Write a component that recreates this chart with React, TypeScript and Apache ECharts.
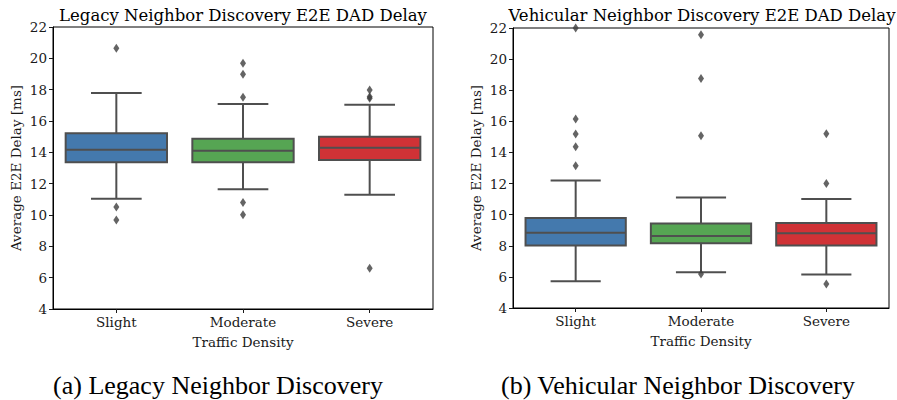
import React, { useEffect, useRef } from "react";
import * as echarts from "echarts";

const categories = ["Slight", "Moderate", "Severe"];
const yTicks = { min: 4, max: 22, interval: 2 };

// [min whisker, Q1, median, Q3, max whisker]
const legacyStats = [
  [11.04, 13.36, 14.17, 15.22, 17.79],
  [11.64, 13.36, 14.1, 14.87, 17.09],
  [11.3, 13.51, 14.3, 15.0, 17.04],
];
// [category index, value]
const legacyOutliers = [
  [0, 20.64], [0, 10.51], [0, 9.68],
  [1, 19.68], [1, 18.98], [1, 17.51], [1, 10.79], [1, 10.02],
  [2, 17.98], [2, 17.55], [2, 17.45], [2, 6.6],
];

const vehicularStats = [
  [5.72, 8.01, 8.83, 9.79, 12.19],
  [6.3, 8.16, 8.63, 9.44, 11.1],
  [6.16, 8.01, 8.8, 9.47, 11.01],
];
const vehicularOutliers = [
  [0, 22.0], [0, 16.15], [0, 15.19], [0, 14.37], [0, 13.15],
  [1, 21.57], [1, 18.76], [1, 15.08], [1, 6.19],
  [2, 15.2], [2, 12.01], [2, 5.55],
];

const titles = [
  "Legacy Neighbor Discovery E2E DAD Delay",
  "Vehicular Neighbor Discovery E2E DAD Delay",
];
const captions = ["(a) Legacy Neighbor Discovery", "(b) Vehicular Neighbor Discovery"];
const yName = "Average E2E Delay [ms]";
const xName = "Traffic Density";

const boxColors = ["#4479ad", "#56a553", "#d03236"];
const lineColor = "#4f4f4f";
const serif = "DejaVu Serif";
const captionFont = "Liberation Serif";
const textColor = "#1a1a1a";

function renderBox(params: any, api: any) {
  const idx = api.value(0);
  const vals = [1, 2, 3, 4, 5].map((i) => api.value(i));
  const band = api.size([1, 0])[0];
  const boxW = band * 0.8;
  const capW = boxW / 2;
  const p = vals.map((v) => api.coord([idx, v]));
  const cx = p[2][0];
  const style = { stroke: lineColor, lineWidth: 2, fill: "none" };
  return {
    type: "group",
    children: [
      { type: "line", shape: { x1: cx, y1: p[3][1], x2: cx, y2: p[4][1] }, style },
      { type: "line", shape: { x1: cx, y1: p[0][1], x2: cx, y2: p[1][1] }, style },
      { type: "line", shape: { x1: cx - capW / 2, y1: p[4][1], x2: cx + capW / 2, y2: p[4][1] }, style },
      { type: "line", shape: { x1: cx - capW / 2, y1: p[0][1], x2: cx + capW / 2, y2: p[0][1] }, style },
      {
        type: "rect",
        shape: { x: cx - boxW / 2, y: p[3][1], width: boxW, height: p[1][1] - p[3][1] },
        style: { fill: boxColors[idx], stroke: lineColor, lineWidth: 2 },
      },
      { type: "line", shape: { x1: cx - boxW / 2, y1: p[2][1], x2: cx + boxW / 2, y2: p[2][1] }, style },
    ],
  };
}

function makeAxes(gridIndex: number) {
  const x = {
    type: "category",
    gridIndex,
    data: categories,
    boundaryGap: true,
    axisLine: { show: true, lineStyle: { color: "#000", width: 1 } },
    axisTick: { show: true, alignWithLabel: true, length: 4, lineStyle: { color: textColor } },
    axisLabel: { fontFamily: serif, fontSize: 13.5, color: textColor, margin: 6 },
    name: xName,
    nameLocation: "middle",
    nameGap: 26,
    nameTextStyle: { fontFamily: serif, fontSize: 13.5, color: textColor },
    splitLine: { show: false },
  };
  const y = {
    type: "value",
    gridIndex,
    min: yTicks.min,
    max: yTicks.max,
    interval: yTicks.interval,
    axisLine: { show: true, lineStyle: { color: "#000", width: 1 } },
    axisTick: { show: true, length: 4, lineStyle: { color: textColor } },
    axisLabel: { fontFamily: serif, fontSize: 13.5, color: textColor, margin: 6 },
    name: yName,
    nameLocation: "middle",
    nameGap: 30,
    nameTextStyle: { fontFamily: serif, fontSize: 13.5, color: textColor },
    splitLine: { show: false },
  };
  return { x, y };
}

function textEl(text: string, x: number, y: number, family: string, size: number) {
  return {
    type: "text",
    x,
    y,
    style: {
      text,
      fontFamily: family,
      fontSize: size,
      fill: "#000",
      align: "center",
      verticalAlign: "middle",
      textAlign: "center",
      textVerticalAlign: "middle",
    },
  };
}

export default function App() {
  const ref = useRef<HTMLDivElement>(null);
  useEffect(() => {
    document.body.style.margin = "0";
    const chart = echarts.init(ref.current!, null, { renderer: "svg" });
    const a0 = makeAxes(0);
    const a1 = makeAxes(1);
    const toData = (stats: number[][]) => stats.map((s, i) => [i, ...s]);
    chart.setOption({
      animation: false,
      backgroundColor: "#fff",
      grid: [
        { left: 53, top: 27, width: 380, height: 282, show: true, borderColor: "#000", borderWidth: 1, backgroundColor: "transparent" },
        { left: 513, top: 28, width: 376, height: 280, show: true, borderColor: "#000", borderWidth: 1, backgroundColor: "transparent" },
      ],
      xAxis: [a0.x, a1.x],
      yAxis: [a0.y, a1.y],
      series: [
        {
          type: "custom",
          xAxisIndex: 0,
          yAxisIndex: 0,
          renderItem: renderBox,
          encode: { x: 0, y: [1, 2, 3, 4, 5] },
          data: toData(legacyStats),
        },
        {
          type: "scatter",
          xAxisIndex: 0,
          yAxisIndex: 0,
          symbol: "diamond",
          symbolSize: [6, 9],
          itemStyle: { color: "#3d3d3d" },
          data: legacyOutliers,
        },
        {
          type: "custom",
          xAxisIndex: 1,
          yAxisIndex: 1,
          renderItem: renderBox,
          encode: { x: 0, y: [1, 2, 3, 4, 5] },
          data: toData(vehicularStats),
        },
        {
          type: "scatter",
          xAxisIndex: 1,
          yAxisIndex: 1,
          symbol: "diamond",
          symbolSize: [6, 9],
          itemStyle: { color: "#3d3d3d" },
          data: vehicularOutliers,
        },
      ],
      graphic: [
        textEl(titles[0], 243, 15, serif, 16.5),
        textEl(titles[1], 702, 15, serif, 16.5),
        textEl(captions[0], 218, 385, captionFont, 26),
        textEl(captions[1], 678, 385, captionFont, 26),
      ],
    });
    return () => chart.dispose();
  }, []);
  return <div ref={ref} style={{ width: 897, height: 400 }} />;
}
